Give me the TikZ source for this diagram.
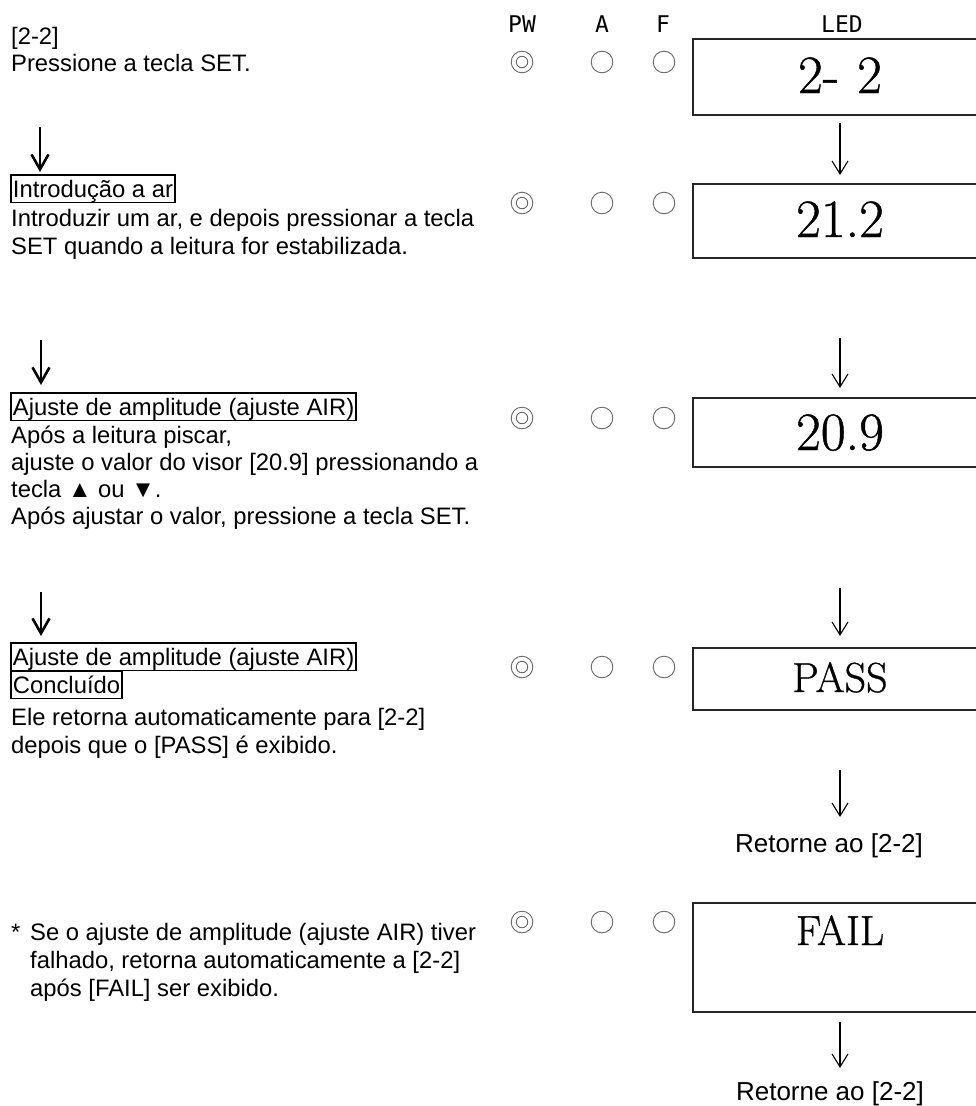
\documentclass[tikz,border=0pt]{standalone}
\usepackage{fontspec}
\setmainfont{Liberation Sans}
\newfontfamily\ledfont[BoldFont={Latin Modern Roman}, BoldFeatures={FakeBold=0.8}]{Latin Modern Roman}
\newfontfamily\hdrfont{DejaVu Sans Mono}
\usetikzlibrary{arrows.meta}
\begin{document}
\begin{tikzpicture}[x=1pt,y=-1pt,
  txt/.style={anchor=base west, inner sep=0pt, align=left, font=\fontsize{23.8}{28}\selectfont},
  txtb/.style={txt, font=\fontsize{23.8}{27}\selectfont},
  boxlbl/.style={anchor=base west, draw, line width=1.9pt, inner xsep=2pt, inner ysep=0pt,
    text height=22pt, text depth=5.5pt, font=\fontsize{23.8}{28}\selectfont},
  hdr/.style={anchor=base, inner sep=0pt, font=\hdrfont\fontsize{23}{24}\selectfont},
  led/.style={anchor=base, inner sep=0pt, font=\ledfont\bfseries\fontsize{54}{60}\selectfont},
  ledw/.style={anchor=base, inner sep=0pt, font=\ledfont\bfseries\fontsize{42}{48}\selectfont},
  ret/.style={anchor=base, inner sep=0pt, font=\fontsize{26}{30}\selectfont},
  ledline/.style={line width=1.5pt, draw=black!85},
  lamp/.style={circle, draw=black!60, line width=0.9pt, inner sep=0pt, minimum size=21.6pt},
  lampin/.style={circle, draw=black!60, line width=0.9pt, inner sep=0pt, minimum size=11.5pt},
  larr/.style={line width=2.6pt, -{Straight Barb[length=15pt,width=17pt]}},
  rarr/.style={line width=1.1pt, -{Straight Barb[length=13pt,width=16pt]}}
]
\fill[white] (0,0) rectangle (976,1106);
\useasboundingbox (0,0) rectangle (976,1106);

% header
\node[hdr] (hPW) at (522,32) {PW};
\node[hdr] (hA) at (602,32) {A};
\node[hdr] (hF) at (663,32) {F};
\node[hdr] (hLED) at (842,32) {LED};

% lamps
\foreach \r/\y in {1/62,2/203,3/418,4/667,5/922}{
  \node[lamp] (pw\r) at (522,\y) {};
  \node[lampin] (pwi\r) at (522,\y) {};
  \node[lamp] (a\r) at (602,\y) {};
  \node[lamp] (f\r) at (664,\y) {};
}

% LED boxes (open on the right)
\foreach \n/\t/\b in {1/39/115,2/184/258,3/398/467,4/648/710,5/903/1012}{
  \coordinate (L\n tl) at (693,\t);
  \coordinate (L\n bl) at (693,\b);
  \coordinate (L\n tr) at (977,\t);
  \coordinate (L\n br) at (977,\b);
  \draw[ledline] (L\n tr) -- (L\n tl) -- (L\n bl) -- (L\n br);
}
\node[led] (d1) at (840,93) {2-\,\,2};
\node[led] (d2) at (840,237) {21.2};
\node[led] (d3) at (840,450) {20.9};
\node[ledw] (d4) at (840,692) {PASS};
\node[ledw] (d5) at (840,945) {FAIL};

\node[ret] (r1) at (829,852) {Retorne ao [2-2]};
\node[ret] (r2) at (830,1100) {Retorne ao [2-2]};

% right arrows
\coordinate (ra1s) at (840,123); \coordinate (ra1e) at (840,175);
\coordinate (ra2s) at (840,338); \coordinate (ra2e) at (840,388);
\coordinate (ra3s) at (840,588); \coordinate (ra3e) at (840,636);
\coordinate (ra4s) at (840,770); \coordinate (ra4e) at (840,817);
\coordinate (ra5s) at (840,1022); \coordinate (ra5e) at (840,1068);
\foreach \i in {1,...,5}{ \draw[rarr] (ra\i s) -- (ra\i e); }

% left column (multi-line nodes are anchored at the baseline of their last line)
\node[txt, font=\fontsize{23.8}{27}\selectfont] (t1) at (11,71) {[2-2]\\Pressione a tecla SET.};

\coordinate (la1s) at (40,127); \coordinate (la1e) at (40,172);
\draw[larr] (la1s) -- (la1e);

\node[boxlbl] (bx2) at (10,197) {Introdução a ar};
\node[txt] (t2) at (11,254) {Introduzir um ar, e depois pressionar a tecla\\SET quando a leitura for estabilizada.};

\coordinate (la2s) at (41,340); \coordinate (la2e) at (41,385);
\draw[larr] (la2s) -- (la2e);

\node[boxlbl] (bx3) at (10,415) {Ajuste de amplitude (ajuste AIR)};
\node[txtb] (t3) at (11,524) {Após a leitura piscar,\\ajuste o valor do visor [20.9] pressionando a\\tecla ▲ ou ▼.\\Após ajustar o valor, pressione a tecla SET.};

\coordinate (la3s) at (41,592); \coordinate (la3e) at (41,636);
\draw[larr] (la3s) -- (la3e);

\node[boxlbl] (bx4a) at (10,665) {Ajuste de amplitude (ajuste AIR)};
\node[boxlbl] (bx4b) at (10,693) {Concluído};
\node[txt] (t4) at (11,753) {Ele retorna automaticamente para [2-2]\\depois que o [PASS] é exibido.};

\node[txt] (star) at (11,940) {*};
\node[txt] (t5) at (30,996) {Se o ajuste de amplitude (ajuste AIR) tiver\\falhado, retorna automaticamente a [2-2]\\após [FAIL] ser exibido.};
\end{tikzpicture}
\end{document}
